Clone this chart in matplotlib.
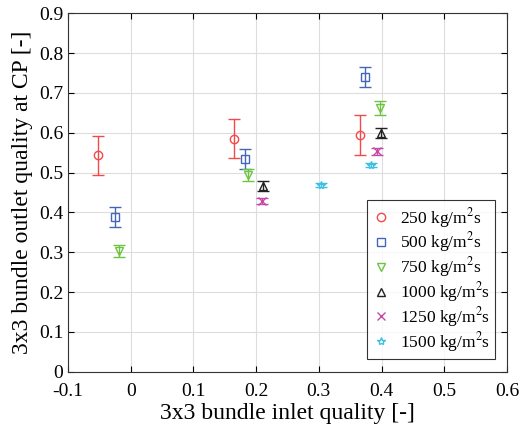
import matplotlib
matplotlib.use('Agg')
import matplotlib.pyplot as plt
import numpy as np

plt.rcParams['font.family'] = ['Liberation Serif', 'DejaVu Serif']
plt.rcParams['mathtext.fontset'] = 'stix'

# data: inlet quality, outlet quality at CP, error
labels = ['250 kg/m$^2$s', '500 kg/m$^2$s', '750 kg/m$^2$s',
          '1000 kg/m$^2$s', '1250 kg/m$^2$s', '1500 kg/m$^2$s']
x250 = [-0.052, 0.164, 0.366]
y250 = [0.543, 0.585, 0.595]
e250 = [0.048, 0.049, 0.050]
x500 = [-0.025, 0.183, 0.373]
y500 = [0.389, 0.534, 0.740]
e500 = [0.025, 0.025, 0.025]
x750 = [-0.019, 0.187, 0.398]
y750 = [0.303, 0.494, 0.662]
e750 = [0.016, 0.016, 0.018]
x1000 = [0.2115, 0.3995]
y1000 = [0.467, 0.599]
e1000 = [0.013, 0.013]
x1250 = [0.209, 0.393]
y1250 = [0.428, 0.553]
e1250 = [0.008, 0.008]
x1500 = [0.3035, 0.383]
y1500 = [0.469, 0.519]
e1500 = [0.005, 0.006]

series = [(x250, y250, e250, 'o', '#f24a4a'),
          (x500, y500, e500, 's', '#4466b8'),
          (x750, y750, e750, 'v', '#6cc440'),
          (x1000, y1000, e1000, '^', '#222222'),
          (x1250, y1250, e1250, 'x', '#c848a8'),
          (x1500, y1500, e1500, '*', '#40c0e0')]

fig = plt.figure(figsize=(5.24, 4.36), dpi=100)
ax = fig.add_axes([68 / 524, 1 - 371.7 / 436, (507 - 68) / 524, (371.7 - 13.3) / 436])

for (x, y, e, m, c), lab in zip(series, labels):
    ax.errorbar(x, y, yerr=e, fmt=m, color=c, mfc='none', mec=c, ms=6,
                mew=1.0, elinewidth=1.0, capsize=4, capthick=1.0, label=lab)

ax.set_xlim(-0.1, 0.6)
ax.set_ylim(0, 0.9)
ax.set_xticks(np.arange(-0.1, 0.61, 0.1))
ax.set_xticklabels(['-0.1', '0', '0.1', '0.2', '0.3', '0.4', '0.5', '0.6'])
ax.set_yticks(np.arange(0, 0.91, 0.1))
ax.set_yticklabels(['0', '0.1', '0.2', '0.3', '0.4', '0.5', '0.6', '0.7', '0.8', '0.9'])
ax.grid(True, color='#dddddd', linewidth=0.8)
ax.tick_params(direction='in', top=True, right=True, labelsize=14, length=4)
ax.tick_params(axis='x', pad=8)
for s in ax.spines.values():
    s.set_color('#333333')
ax.set_xlabel('3x3 bundle inlet quality [-]', fontsize=17, labelpad=2)
ax.set_ylabel('3x3 bundle outlet quality at CP [-]', fontsize=17)

# legend shows markers only
handles, labs = ax.get_legend_handles_labels()
handles = [h[0] for h in handles]
leg = ax.legend(handles, labs, loc='lower right', bbox_to_anchor=(0.973, 0.035),
                borderaxespad=0, fontsize=12.5, frameon=True, fancybox=False,
                edgecolor='black', handletextpad=0.6, labelspacing=0.05,
                borderpad=0.3, handlelength=1.0)
leg.get_frame().set_linewidth(0.8)

fig.savefig('out.png', dpi=100)
